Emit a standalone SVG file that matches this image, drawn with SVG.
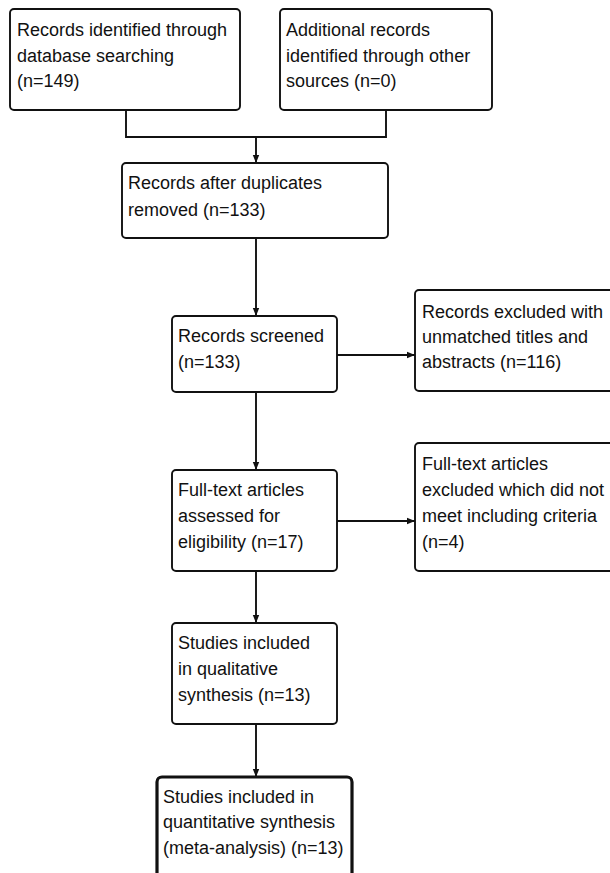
<svg xmlns="http://www.w3.org/2000/svg" width="610" height="873" viewBox="0 0 610 873">
<defs>
<style>
.box{fill:#fff;stroke:#111;stroke-width:1.9}
.thick{stroke-width:3.2}
.t{font-family:"Liberation Sans",Arial,sans-serif;font-size:18px;fill:#111}
.c{fill:none;stroke:#111;stroke-width:1.9}
</style>
<marker id="ah" viewBox="0 0 8 8" refX="8" refY="4" markerWidth="8" markerHeight="8" markerUnits="userSpaceOnUse" orient="auto">
<path d="M0,0.8 L8,4 L0,7.2 Z" fill="#111"/>
</marker>
</defs>
<rect width="610" height="873" fill="#fff"/>
<g id="connectors">
<polyline class="c" points="126,110 126,137 386,137 386,110"/>
<line class="c" x1="256" y1="137" x2="256" y2="163" marker-end="url(#ah)"/>
<line class="c" x1="256" y1="238" x2="256" y2="316" marker-end="url(#ah)"/>
<line class="c" x1="337" y1="355" x2="415" y2="355" marker-end="url(#ah)"/>
<line class="c" x1="256" y1="392" x2="256" y2="470" marker-end="url(#ah)"/>
<line class="c" x1="337" y1="521" x2="415" y2="521" marker-end="url(#ah)"/>
<line class="c" x1="256" y1="571" x2="256" y2="623" marker-end="url(#ah)"/>
<line class="c" x1="256" y1="724" x2="256" y2="777" marker-end="url(#ah)"/>
</g>
<g id="n1">
<rect class="box" x="10" y="9" width="230" height="101" rx="4"/>
<text class="t" x="17" y="36">Records identified through</text>
<text class="t" x="17" y="62">database searching</text>
<text class="t" x="17" y="87">(n=149)</text>
</g>
<g id="n2">
<rect class="box" x="280" y="9" width="212" height="101" rx="4"/>
<text class="t" x="286" y="36">Additional records</text>
<text class="t" x="286" y="62">identified through other</text>
<text class="t" x="286" y="87">sources (n=0)</text>
</g>
<g id="n3">
<rect class="box" x="122" y="163" width="266" height="75" rx="4"/>
<text class="t" x="128" y="189">Records after duplicates</text>
<text class="t" x="128" y="216">removed (n=133)</text>
</g>
<g id="n4">
<rect class="box" x="172" y="316" width="165" height="76" rx="4"/>
<text class="t" x="178" y="342">Records screened</text>
<text class="t" x="178" y="368">(n=133)</text>
</g>
<g id="n5">
<rect class="box" x="415" y="290" width="210" height="101" rx="4"/>
<text class="t" x="422" y="318">Records excluded with</text>
<text class="t" x="422" y="343">unmatched titles and</text>
<text class="t" x="422" y="368">abstracts (n=116)</text>
</g>
<g id="n6">
<rect class="box" x="172" y="470" width="165" height="101" rx="4"/>
<text class="t" x="178" y="496">Full-text articles</text>
<text class="t" x="178" y="522">assessed for</text>
<text class="t" x="178" y="548">eligibility (n=17)</text>
</g>
<g id="n7">
<rect class="box" x="415" y="443" width="210" height="128" rx="4"/>
<text class="t" x="422" y="470">Full-text articles</text>
<text class="t" x="422" y="496">excluded which did not</text>
<text class="t" x="422" y="522">meet including criteria</text>
<text class="t" x="422" y="548">(n=4)</text>
</g>
<g id="n8">
<rect class="box" x="172" y="623" width="165" height="101" rx="4"/>
<text class="t" x="178" y="649">Studies included</text>
<text class="t" x="178" y="675">in qualitative</text>
<text class="t" x="178" y="701">synthesis (n=13)</text>
</g>
<g id="n9">
<rect class="box thick" x="157" y="777" width="195" height="110" rx="5"/>
<text class="t" x="163" y="803">Studies included in</text>
<text class="t" x="163" y="828">quantitative synthesis</text>
<text class="t" x="163" y="854">(meta-analysis) (n=13)</text>
</g>
</svg>
